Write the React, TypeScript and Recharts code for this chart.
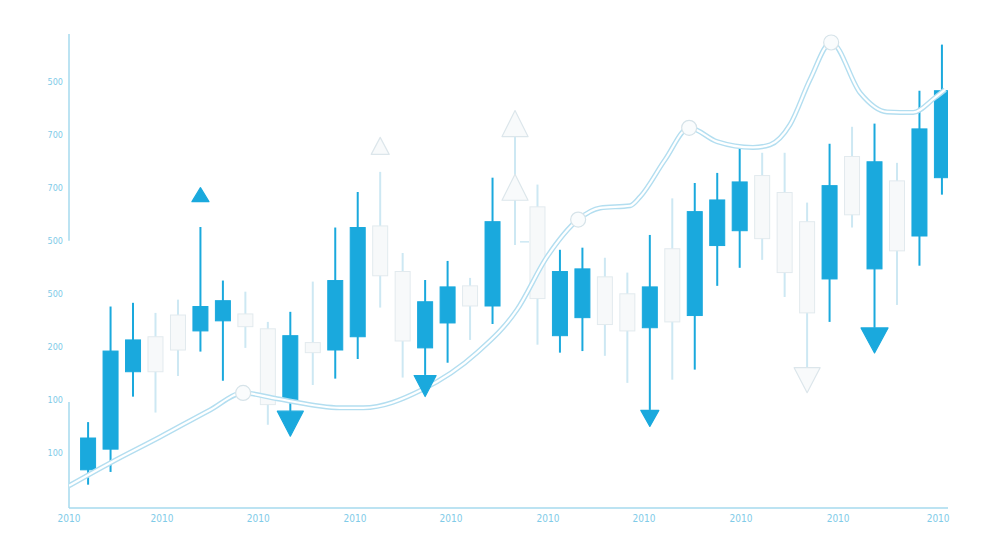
import React from 'react';
import { ComposedChart, Bar, Line, Scatter, XAxis, YAxis, ReferenceLine } from 'recharts';

// candle index -> open / close / high / low
const candleOpen = [68, 107, 253, 319, 360, 330, 349, 362, 334, 200, 308, 294, 319, 528, 442, 298, 345, 415, 377, 498, 564, 321, 355, 432, 400, 336, 485, 359, 491, 519, 623, 591, 536, 428, 659, 447, 613, 509, 619];
const candleClose = [128, 292, 313, 253, 294, 376, 387, 338, 191, 321, 289, 425, 525, 434, 311, 385, 413, 377, 536, 498, 391, 442, 447, 342, 330, 413, 347, 555, 577, 611, 504, 440, 364, 604, 549, 649, 481, 711, 783];
const candleHigh = [158, 376, 383, 364, 389, 526, 425, 404, 347, 366, 423, 525, 592, 630, 477, 426, 462, 430, 619, 696, 606, 483, 487, 468, 440, 511, 580, 609, 628, 676, 666, 666, 572, 683, 715, 721, 647, 783, 870];
const candleLow = [40, 64, 206, 176, 245, 291, 236, 298, 153, 178, 228, 240, 277, 374, 242, 247, 270, 313, 343, 492, 304, 289, 292, 283, 232, 181, 238, 257, 415, 449, 464, 394, 260, 347, 525, 336, 379, 453, 587];

// smooth trend line (x in candle-index units)
const trendX = [-0.85, 0.98, 3.2, 5.43, 6.9, 8.41, 11.21, 12.24, 14.86, 17.31, 19.09, 20.43, 21.81, 22.79, 24.12, 24.57, 25.68, 26.75, 27.99, 29.59, 30.35, 31.24, 32.13, 33.07, 34.36, 35.56, 36.72, 37.69, 38.14];
const trendY = [38, 81, 130, 181, 213, 202, 185, 185, 219, 289, 370, 470, 540, 562, 566, 583, 653, 713, 687, 676, 681, 719, 804, 874, 779, 743, 742, 770, 785];

// round markers on the trend line
const dotX = [6.9, 21.81, 26.75, 33.07];
const dotY = [213, 540, 713, 874];

// arrow heads: position, direction, filled or hollow
const arrowX = [5, 9, 13, 15, 19, 19, 25, 32, 35];
const arrowY = [587, 155, 679, 226, 721, 601, 165, 237, 312];
const arrowDir = ['up', 'down', 'up', 'down', 'up', 'up', 'down', 'down', 'down'];
const arrowKind = ['blue', 'blue', 'hollow', 'blue', 'hollow', 'hollow', 'blue', 'hollow', 'blue'];
const arrowSizes = [[17, 14], [26, 25], [18, 17], [22, 21], [26, 26], [26, 26], [18, 16], [26, 25], [27, 25]];

const xTicks = [-0.85, 3.29, 7.57, 11.88, 16.15, 20.47, 24.74, 29.06, 33.38, 37.83];
const xTickLabels = ['2010', '2010', '2010', '2010', '2010', '2010', '2010', '2010', '2010', '2010'];
const yTicks = [100, 200, 300, 400, 500, 600, 700, 800];
const yTickLabels = ['100', '100', '200', '500', '500', '700', '700', '500'];
// the vertical axis is drawn in two pieces
const yAxisPieces = [[-4, 196], [500, 890]];

const BLUE = '#1aa9dd';
const PALE = '#cde8f3';
const AXIS = '#a6daee';
const TICK = '#7fcbe8';
const BODY_W = 15;

const candles = candleOpen.map((open, i) => ({
  i,
  open,
  close: candleClose[i],
  high: candleHigh[i],
  low: candleLow[i],
  range: [candleLow[i], candleHigh[i]],
}));
const trend = trendX.map((i, k) => ({ i, v: trendY[k] }));
const dots = dotX.map((i, k) => ({ i, v: dotY[k] }));
const arrows = arrowX.map((i, k) => ({ i, v: arrowY[k], dir: arrowDir[k], kind: arrowKind[k], k }));

const Candle = (props: any) => {
  const { x, y, width, height, payload } = props;
  if (!payload) return null;
  const { open, close, high, low } = payload;
  const top = Math.min(y, y + height);
  const h = Math.abs(height);
  const ppu = h / (high - low);
  const yOf = (v: number) => top + (high - v) * ppu;
  const cx = x + (width || 0) / 2;
  const up = close > open;
  const bTop = yOf(Math.max(open, close));
  const bBot = yOf(Math.min(open, close));
  if (open === close) {
    return (
      <g>
        <line x1={cx} x2={cx} y1={top} y2={top + h} stroke={PALE} strokeWidth={2} />
        <line x1={cx + 5} x2={cx + 14} y1={bTop} y2={bTop} stroke={PALE} strokeWidth={1.5} />
      </g>
    );
  }
  return (
    <g>
      <line x1={cx} x2={cx} y1={top} y2={top + h} stroke={up ? BLUE : PALE} strokeWidth={2} />
      <rect
        x={cx - BODY_W / 2}
        y={bTop}
        width={BODY_W}
        height={Math.max(1.5, bBot - bTop)}
        fill={up ? BLUE : '#f7f9fa'}
        stroke={up ? BLUE : '#e2eaee'}
        strokeWidth={1}
      />
    </g>
  );
};

const Arrow = (props: any) => {
  const { cx, cy, payload } = props;
  if (!payload) return null;
  const [w, h] = arrowSizes[payload.k];
  const pts =
    payload.dir === 'up'
      ? `${cx},${cy - h / 2} ${cx + w / 2},${cy + h / 2} ${cx - w / 2},${cy + h / 2}`
      : `${cx - w / 2},${cy - h / 2} ${cx + w / 2},${cy - h / 2} ${cx},${cy + h / 2}`;
  const blue = payload.kind === 'blue';
  return (
    <polygon
      points={pts}
      fill={blue ? BLUE : '#f8fafb'}
      stroke={blue ? BLUE : '#dce6eb'}
      strokeWidth={1.2}
      strokeLinejoin="round"
    />
  );
};

const Dot = (props: any) => {
  const { cx, cy } = props;
  return <circle cx={cx} cy={cy} r={7.5} fill="#fafcfd" stroke="#d6e3e9" strokeWidth={1.2} />;
};

const tickFont = { fontFamily: '"Liberation Sans Narrow", "DejaVu Sans Condensed", sans-serif', fontSize: 9, fill: TICK };

export default function App() {
  return (
    <div style={{ position: 'absolute', left: 0, top: 0, width: 1000, height: 545, background: '#fff' }}>
      <ComposedChart width={1000} height={545} data={candles} margin={{ top: 34, right: 52, bottom: 7, left: 0 }}>
        <XAxis
          dataKey="i"
          type="number"
          domain={[-0.85, 38.27]}
          ticks={xTicks}
          tickFormatter={(v: number) => xTickLabels[xTicks.indexOf(v)] ?? ''}
          tick={{ ...tickFont, fontSize: 10 }}
          tickLine={false}
          tickSize={0}
          tickMargin={7}
          axisLine={{ stroke: AXIS, strokeWidth: 1.5 }}
          height={30}
          interval={0}
          allowDataOverflow
        />
        <YAxis
          type="number"
          domain={[-4, 890]}
          ticks={yTicks}
          tickFormatter={(v: number) => yTickLabels[yTicks.indexOf(v)] ?? ''}
          tick={tickFont}
          tickLine={false}
          tickSize={0}
          tickMargin={6}
          axisLine={false}
          width={69}
          interval={0}
          allowDataOverflow
        />
        {yAxisPieces.map(([a, b], k) => (
          <ReferenceLine
            key={k}
            segment={[{ x: -0.85, y: a }, { x: -0.85, y: b }]}
            stroke={AXIS}
            strokeWidth={1.5}
          />
        ))}
        <Line
          data={trend}
          dataKey="v"
          type="monotone"
          stroke="#b3def0"
          strokeWidth={5}
          dot={false}
          activeDot={false}
          isAnimationActive={false}
        />
        <Line
          data={trend}
          dataKey="v"
          type="monotone"
          stroke="#ffffff"
          strokeWidth={2.2}
          dot={false}
          activeDot={false}
          isAnimationActive={false}
        />
        <Bar dataKey="range" barSize={15} shape={<Candle />} isAnimationActive={false} />
        <Scatter data={dots} dataKey="v" shape={<Dot />} isAnimationActive={false} />
        <Scatter data={arrows} dataKey="v" shape={<Arrow />} isAnimationActive={false} />
      </ComposedChart>
    </div>
  );
}
